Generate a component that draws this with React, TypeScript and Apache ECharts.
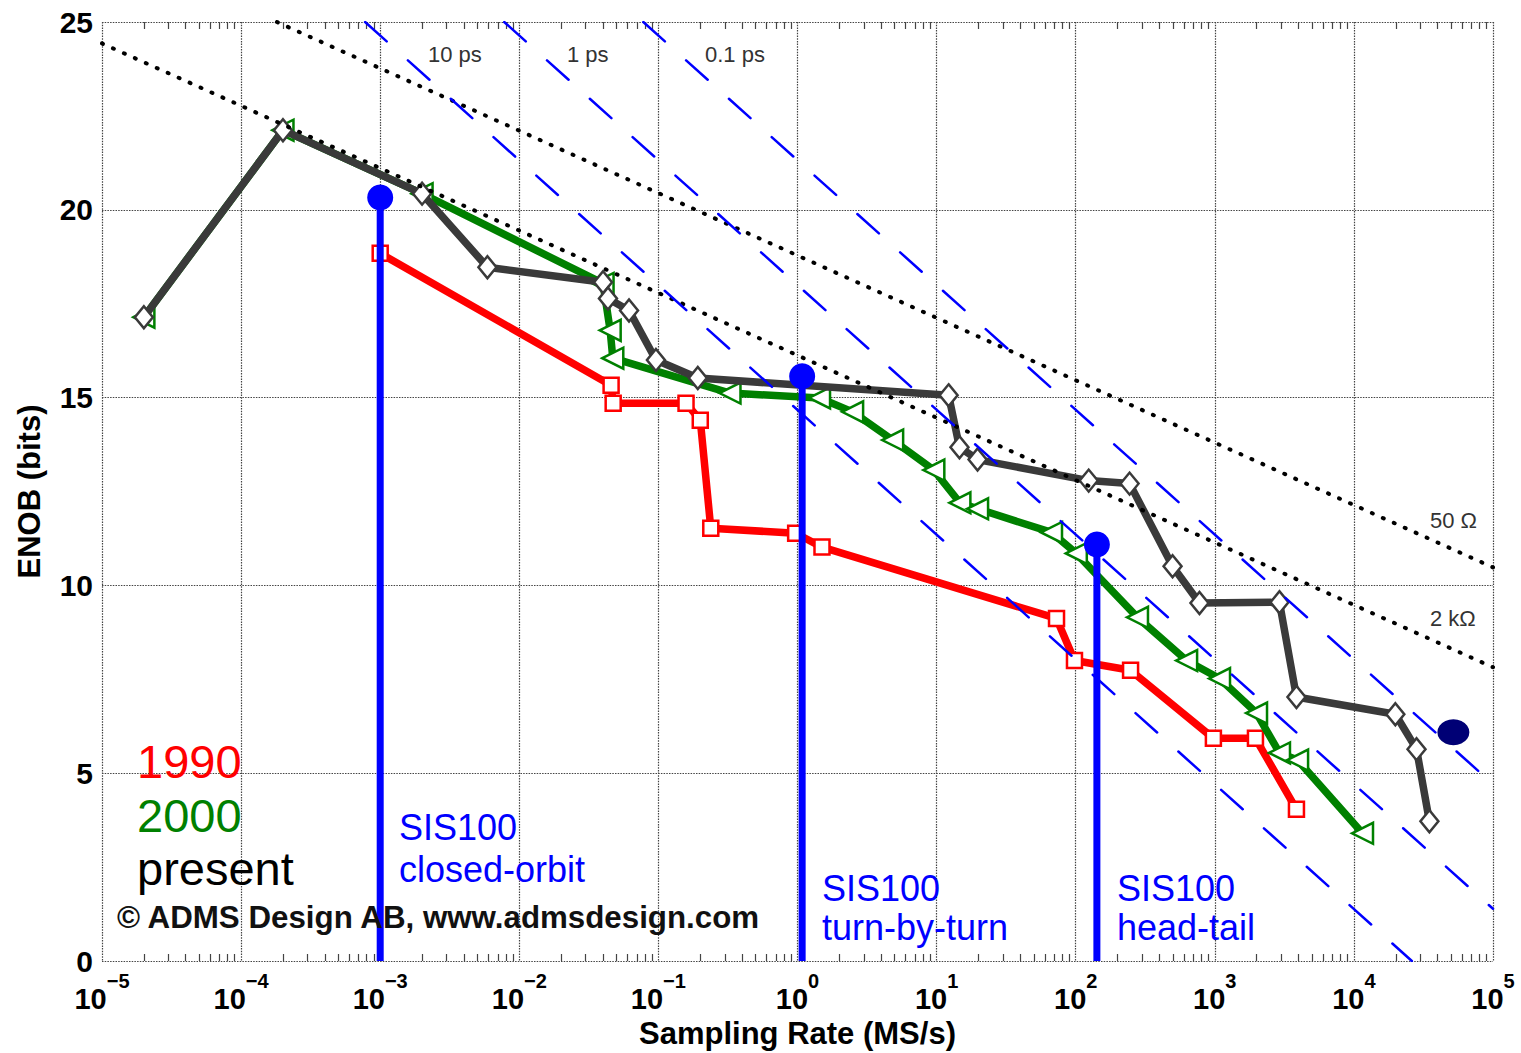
import React, { useEffect, useRef } from 'react';
import * as echarts from 'echarts';

// ---- Data ----
// 1990 (red squares)
const rate1990 = [1e-3, 0.0457, 0.0473, 0.158, 0.2, 0.238, 0.97, 1.5, 72.8, 98, 248, 977, 1960, 3864];
const enob1990 = [18.84, 15.33, 14.85, 14.85, 14.4, 11.52, 11.39, 11.02, 9.12, 8.0, 7.74, 5.93, 5.93, 4.04];

// 2000 (green triangles)
const rate2000 = [2e-5, 2e-4, 2e-3, 0.04, 0.045, 0.047, 0.327, 1.44, 2.49, 4.83, 9.55, 14.7, 19.7, 67, 101, 278, 627, 1081, 1995, 2917, 3936, 11530];
const enob2000 = [17.14, 22.12, 20.43, 18.04, 16.79, 16.05, 15.12, 14.99, 14.62, 13.87, 13.07, 12.2, 12.04, 11.41, 10.85, 9.15, 8.0, 7.52, 6.6, 5.54, 5.35, 3.4];

// present (gray diamonds)
const ratePresent = [2e-5, 2e-4, 2e-3, 5.9e-3, 0.04, 0.0434, 0.0615, 0.096, 0.192, 12.2, 14.6, 19.7, 124, 244, 497, 776, 2917, 3864, 19860, 28200, 34900];
const enobPresent = [17.14, 22.12, 20.43, 18.47, 18.07, 17.64, 17.32, 16.0, 15.52, 15.06, 13.68, 13.35, 12.79, 12.71, 10.51, 9.53, 9.55, 7.03, 6.57, 5.64, 3.72];

// SIS100 requirements (blue stems)
const sisRate = [1e-3, 1.08, 142];
const sisEnob = [20.33, 15.57, 11.09];
const sisLabels = [['SIS100', 'closed-orbit'], ['SIS100', 'turn-by-turn'], ['SIS100', 'head-tail']];

// single navy point
const navyPoint = [51900, 6.09];

// thermal-noise limits (dotted), endpoints [rate, enob]
const thermal50 = [[1.81e-4, 25], [1e5, 10.48]];
const thermal2k = [[1e-5, 24.43], [1e5, 7.82]];
const thermalLabels = ['50 Ω', '2 kΩ'];

// aperture-jitter limits (dashed), endpoints [rate, enob]
const jitter10ps = [[7.79e-4, 25], [2.61e4, 0]];
const jitter1ps = [[7.79e-3, 25], [1e5, 1.39]];
const jitter01ps = [[7.79e-2, 25], [1e5, 4.71]];
const jitterLabels = ['10 ps', '1 ps', '0.1 ps'];

// axis ticks
const yTicks = [0, 5, 10, 15, 20, 25];
const decadeMin = -5; // x tick labels 10^-5 ... 10^5
const decadeMax = 5;

const FONT = '"Liberation Sans", Arial, Helvetica, sans-serif';

export default function App() {
  const ref = useRef<HTMLDivElement>(null);

  useEffect(() => {
    if (!ref.current) return;
    const chart = echarts.init(ref.current, null, { renderer: 'svg' });
    const zip = (xs: number[], ys: number[]) => xs.map((x, i) => [x, ys[i]]);

    const minorTicks: number[] = [];
    for (let d = decadeMin; d < decadeMax; d++) {
      for (let k = 2; k <= 9; k++) minorTicks.push(d + Math.log10(k));
    }

    const gridLine = { color: '#444', width: 1.2, type: [1.5, 1.2] as any };
    const sup = (e: number) => (e < 0 ? '\u2212' + -e : String(e));

    const minorAxis = (position: 'top' | 'bottom') => ({
      type: 'value',
      min: decadeMin,
      max: decadeMax,
      position,
      axisLine: { show: false },
      axisLabel: { show: false },
      splitLine: { show: false },
      axisTick: {
        show: true,
        inside: true,
        length: 7,
        customValues: minorTicks,
        lineStyle: { color: '#444', width: 1.2 },
      },
    });

    const dataLine = (
      name: string,
      data: number[][],
      color: string,
      symbol: string,
      symbolSize: any,
      z: number,
      extra: any = {}
    ) => ({
      name,
      type: 'line',
      data,
      z,
      silent: true,
      symbol,
      symbolSize,
      showSymbol: true,
      lineStyle: { color, width: 7.5 },
      itemStyle: { color: '#ffffff', borderColor: color, borderWidth: 2.5 },
      emphasis: { disabled: true },
      ...extra,
    });

    const refLine = (data: number[][], color: string, width: number, type: any, z: number) => ({
      type: 'line',
      data,
      z,
      silent: true,
      symbol: 'none',
      lineStyle: { color, width, type, cap: 'round' },
      emphasis: { disabled: true },
    });

    const sisSeries = sisRate.map((r, i) => ({
      type: 'line',
      z: 8,
      silent: true,
      data: [
        { value: [r, 0], symbol: 'none' },
        { value: [r, sisEnob[i]], symbol: 'circle', symbolSize: 26 },
      ],
      lineStyle: { color: '#0000ff', width: 7 },
      itemStyle: { color: '#0000ff' },
      emphasis: { disabled: true },
    }));

    const txt = (text: string, x: number, y: number, size: number, color: string, bold = false) => ({
      type: 'text',
      x,
      y,
      silent: true,
      z: 100,
      style: {
        text,
        fill: color,
        font: `${bold ? 'bold ' : ''}${size}px ${FONT}`,
        align: 'left',
        verticalAlign: 'middle',
        textAlign: 'left',
        textVerticalAlign: 'middle',
      },
    });

    const graphics: any[] = [
      txt('1990', 137, 761, 47, '#ff0000'),
      txt('2000', 137, 815, 47, '#008000'),
      txt('present', 137, 868, 47, '#000000'),
      txt('\u00A9 ADMS Design AB, www.admsdesign.com', 117, 917, 31.3, '#111111', true),
      txt(sisLabels[0][0], 399, 827, 36, '#0000ff'),
      txt(sisLabels[0][1], 399, 869, 36, '#0000ff'),
      txt(sisLabels[1][0], 822, 888, 36, '#0000ff'),
      txt(sisLabels[1][1], 822, 927, 36, '#0000ff'),
      txt(sisLabels[2][0], 1117, 888, 36, '#0000ff'),
      txt(sisLabels[2][1], 1117, 927, 36, '#0000ff'),
      txt(jitterLabels[0], 428, 54, 22, '#333333'),
      txt(jitterLabels[1], 567, 54, 22, '#333333'),
      txt(jitterLabels[2], 705, 54, 22, '#333333'),
      txt(thermalLabels[0], 1430, 520, 22, '#333333'),
      txt(thermalLabels[1], 1430, 618, 22, '#333333'),
    ];

    const option: any = {
      animation: false,
      backgroundColor: '#ffffff',
      textStyle: { fontFamily: FONT },
      grid: { left: 102, right: 28, top: 22, bottom: 92, containLabel: false, outerBoundsMode: 'none' },
      xAxis: [
        {
          // data axis (log scale)
          type: 'log',
          logBase: 10,
          min: Math.pow(10, decadeMin),
          max: Math.pow(10, decadeMax),
          show: true,
          axisLine: { show: false },
          axisTick: { show: false },
          axisLabel: { show: false },
          splitLine: { show: false },
        },
        {
          // decade grid and labels (exponent space)
          type: 'value',
          min: decadeMin,
          max: decadeMax,
          interval: 1,
          position: 'bottom',
          name: 'Sampling Rate (MS/s)',
          nameLocation: 'middle',
          nameGap: 57,
          nameTextStyle: { fontFamily: FONT, fontSize: 31, fontWeight: 'bold', color: '#000' },
          axisLine: { show: false },
          axisTick: { show: false },
          splitLine: { show: true, lineStyle: gridLine },
          axisLabel: {
            margin: 10,
            formatter: (v: number) => `{b|10}{s|${sup(Math.round(v))}}`,
            rich: {
              b: { fontFamily: FONT, fontSize: 29, fontWeight: 'bold', color: '#000', lineHeight: 42, verticalAlign: 'bottom' },
              s: { fontFamily: FONT, fontSize: 20, fontWeight: 'bold', color: '#000', verticalAlign: 'top' },
            },
          },
        },
        minorAxis('bottom'),
        minorAxis('top'),
      ],
      yAxis: {
        type: 'value',
        min: yTicks[0],
        max: yTicks[yTicks.length - 1],
        interval: 5,
        name: 'ENOB (bits)',
        nameLocation: 'middle',
        nameGap: 57,
        nameTextStyle: { fontFamily: FONT, fontSize: 31, fontWeight: 'bold', color: '#000' },
        axisLine: { show: false },
        axisTick: { show: false },
        splitLine: { show: true, lineStyle: gridLine },
        axisLabel: { margin: 9, fontFamily: FONT, fontSize: 30, fontWeight: 'bold', color: '#000' },
      },
      series: [
        dataLine('1990', zip(rate1990, enob1990), '#ff0000', 'rect', 15, 3),
        dataLine('2000', zip(rate2000, enob2000), '#008000', 'triangle', 21, 4, { symbolRotate: 90 }),
        dataLine('present', zip(ratePresent, enobPresent), '#3a3a3a', 'diamond', [18, 22], 5),
        refLine(thermal50, '#000000', 4, [1, 11], 6),
        refLine(thermal2k, '#000000', 4, [1, 11], 6),
        refLine(jitter10ps, '#0000ff', 2.5, [29, 28.5], 7),
        refLine(jitter1ps, '#0000ff', 2.5, [29, 28.5], 7),
        refLine(jitter01ps, '#0000ff', 2.5, [29, 28.5], 7),
        ...sisSeries,
        {
          type: 'scatter',
          z: 9,
          silent: true,
          data: [navyPoint],
          symbol: 'circle',
          symbolSize: [32, 26],
          itemStyle: { color: '#000075', opacity: 1 },
          emphasis: { disabled: true },
        },
      ],
      graphic: graphics,
    };

    chart.setOption(option);
    return () => chart.dispose();
  }, []);

  return (
    <div
      ref={ref}
      style={{ position: 'fixed', left: 0, top: 0, width: '1521px', height: '1053px', background: '#fff' }}
    />
  );
}
